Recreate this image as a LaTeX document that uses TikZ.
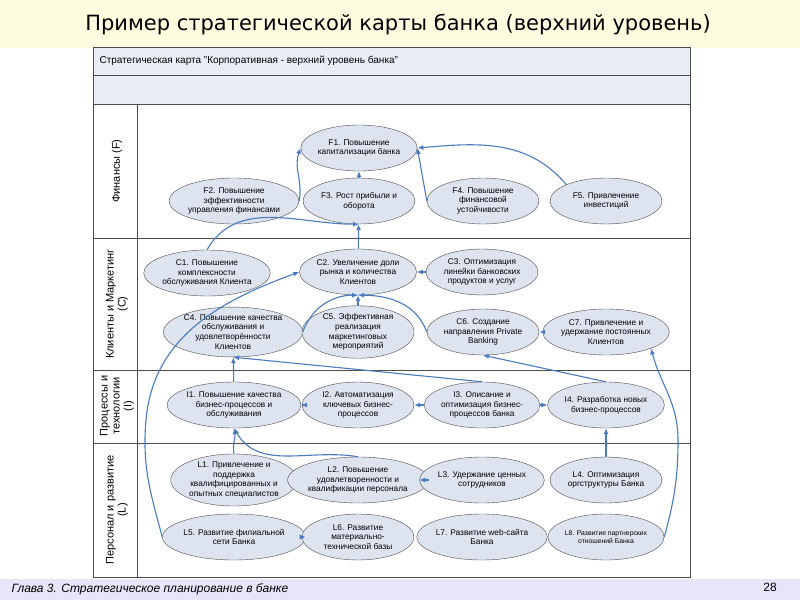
\documentclass[tikz,border=0pt]{standalone}
\usepackage{fontspec}
\setmainfont{Liberation Sans}
\newfontfamily\titlefont{DejaVu Sans}
\usetikzlibrary{shapes.geometric,arrows.meta}
\definecolor{ellfill}{HTML}{DDE4F0}
\definecolor{arr}{HTML}{4A7AC0}
\definecolor{hdr}{HTML}{E8EDF6}
\definecolor{ttl}{HTML}{FFFDE0}
\definecolor{foot}{HTML}{E6E6F8}
\tikzset{
 goal/.style={ellipse,draw=black!70,fill=ellfill,minimum width=112pt,minimum height=46pt,inner sep=0pt,align=center,font=\fontsize{8.3}{9.8}\selectfont},
 link/.style={draw=arr,line width=1.1pt,-{Latex[length=6pt,width=5pt]}},
 lane/.style={rotate=90,align=center,font=\fontsize{11}{12}\selectfont}
}
\begin{document}
\begin{tikzpicture}[x=1pt,y=-1pt]
\useasboundingbox (0,0) rectangle (800,600);
\fill[ttl] (0,0) rectangle (800,48);
\fill[foot] (0,579) rectangle (800,600);
\node[font=\titlefont\fontsize{21}{23}\selectfont] (title) at (398,25) {Пример стратегической карты банка (верхний уровень)};
\node[anchor=west,font=\itshape\fontsize{12}{13}\selectfont] (foottxt) at (8,589) {Глава 3. Стратегическое планирование в банке};
\node[font=\fontsize{12}{13}\selectfont] (page) at (770,587) {28};
% table
\fill[hdr] (93,47) rectangle (690,104);
\draw[black!70] (93,47) rectangle (690,577);
\foreach \y in {75,104,238,370,443} \draw[black!70] (93,\y) -- (690,\y);
\draw[black!70] (137,104) -- (137,577);
\node[anchor=west,font=\fontsize{10}{11}\selectfont] (hd) at (96,61) {Стратегическая карта "Корпоративная - верхний уровень банка"};
\node[lane] (lf) at (117,171) {Финансы (F)};
\node[lane] (lc) at (117,304) {Клиенты и Маркетинг\\(C)};
\node[lane] (li) at (117,406) {Процессы и\\технологии\\(I)};
\node[lane] (ll) at (117,510) {Персонал и развитие\\(L)};
% nodes
\node[goal] (F1) at (359,148) {F1. Повышение\\капитализации банка};
\node[goal] (F2) at (234,201) {F2. Повышение\\эффективности\\управления финансами};
\node[goal] (F3) at (359,201) {F3. Рост прибыли и\\оборота};
\node[goal] (F4) at (483,201) {F4. Повышение\\финансовой\\устойчивости};
\node[goal] (F5) at (606,201) {F5. Привлечение\\инвестиций};
\node[goal] (C1) at (207,273) {C1. Повышение\\комплексности\\обслуживания Клиента};
\node[goal] (C2) at (358,272) {C2. Увеличение доли\\рынка и количества\\Клиентов};
\node[goal] (C3) at (482,272) {C3. Оптимизация\\линейки банковских\\продуктов и услуг};
\node[goal] (C4) at (233,332) {C4. Повышение качества\\обслуживания и\\удовлетворённости\\Клиентов};
\node[goal] (C5) at (358,332) {C5. Эффективная\\реализация\\маркетинговых\\мероприятий};
\node[goal] (C6) at (483,332) {C6. Создание\\направления Private\\Banking};
\node[goal] (C7) at (606,332) {C7. Привлечение и\\удержание постоянных\\Клиентов};
\node[goal] (I1) at (234,405) {I1. Повышение качества\\бизнес-процессов и\\обслуживания};
\node[goal] (I2) at (358,405) {I2. Автоматизация\\ключевых бизнес-\\процессов};
\node[goal] (I3) at (482,405) {I3. Описание и\\оптимизация бизнес-\\процессов банка};
\node[goal] (I4) at (606,405) {I4. Разработка новых\\бизнес-процессов};
\node[goal] (L1) at (234,480) {L1. Привлечение и\\поддержка\\квалифицированных и\\опытных специалистов};
\node[goal] (L2) at (358,480) {L2. Повышение\\удовлетворенности и\\квалификации персонала};
\node[goal] (L3) at (482,480) {L3. Удержание ценных\\сотрудников};
\node[goal] (L4) at (606,480) {L4. Оптимизация\\оргструктуры Банка};
\node[goal] (L5) at (234,537) {L5. Развитие филиальной\\сети Банка};
\node[goal] (L6) at (358,537) {L6. Развитие\\материально-\\технической базы};
\node[goal] (L7) at (482,537) {L7. Развитие web-сайта\\Банка};
\node[goal,font=\fontsize{6.8}{8.3}\selectfont] (L8) at (606,537) {L8. Развитие партнерских\\отношений Банка};
% links
\draw[link] (F2.east) to[out=80,in=250] (F1.west);
\draw[link] (F3) -- (F1);
\draw[link] (F4.west) to[out=100,in=-80] (F1.east);
\draw[link] (F5.north west) to[out=130,in=5] (F1.east);
\draw[link] (C1.north) to[out=60,in=180] (F3.south);
\draw[link] (C2) -- (F3);
\draw[link] (C3) -- (C2);
\draw[link] (C4.east) to[out=70,in=180] (C2.south);
\draw[link] (C5) -- (C2);
\draw[link] (C6.west) to[out=110,in=0] (C2.south);
\draw[link] (C7) -- (C6);
\draw[link] (I1) -- (C4);
\draw[link] (I3.north) -- (C4.south);
\draw[link] (I4.north) -- (C6.south);
\draw[link] (I2) -- (I1);
\draw[link] (I3) -- (I2);
\draw[link] (I3) -- (I4);
\draw[link] (L1.north) to[out=100,in=-80] (I1.south);
\draw[link] (L2.north) to[out=170,in=-60] (I1.south);
\draw[link] (L2) -- (L3);
\draw[link] (L4) -- (I4);
\draw[link] (L6) -- (L5);
\draw[link] (L5.west) to[out=105,in=-95] (146,420) to[out=85,in=200] (C2.west);
\draw[link] (L8.east) to[out=75,in=-90] (678,440) to[out=90,in=-75] (C7.south east);
\end{tikzpicture}
\end{document}
